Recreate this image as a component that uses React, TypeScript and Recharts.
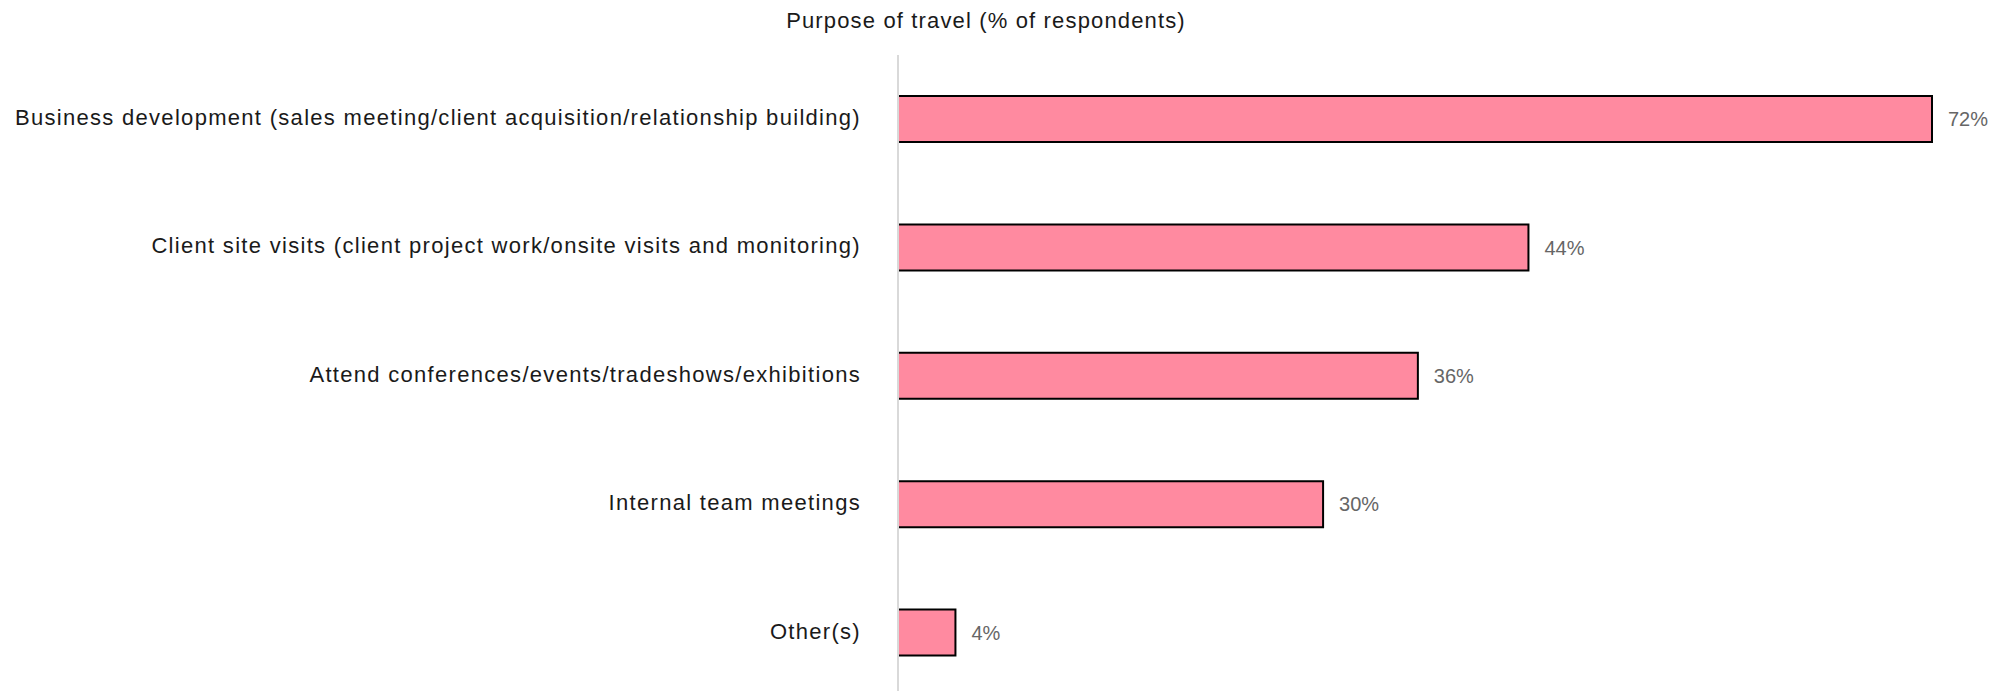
// Purpose of travel — horizontal bar chart

import { BarChart, Bar, XAxis, YAxis, LabelList } from "recharts";

const purposes = [
  "Business development (sales meeting/client acquisition/relationship building)",
  "Client site visits (client project work/onsite visits and monitoring)",
  "Attend conferences/events/tradeshows/exhibitions",
  "Internal team meetings",
  "Other(s)",
];

// labels show the rounded percentage
const shares = [72, 43.9, 36.2, 29.6, 4];

const data = purposes.map((name, i) => ({ name, value: shares[i] }));

const FONT = '"Liberation Sans", Arial, Helvetica, sans-serif';

export default function App() {
  return (
    <div
      style={{
        position: "relative",
        width: 2008,
        height: 691,
        overflow: "hidden",
        fontFamily: FONT,
      }}
    >
      <style>{"body{margin:0}"}</style>
      <div
        style={{
          position: "absolute",
          top: 8,
          left: 0,
          width: 1972,
          textAlign: "center",
          fontSize: 22,
          letterSpacing: "1.15px",
          color: "#1a1a1a",
        }}
      >
        Purpose of travel (% of respondents)
      </div>
      <BarChart
        width={2008}
        height={697}
        data={data}
        layout="vertical"
        margin={{ top: 55, right: 76, bottom: 0, left: 0 }}
      >
        <XAxis type="number" hide domain={[0, 72]} />
        <YAxis
          type="category"
          dataKey="name"
          width={898}
          tickLine={false}
          tickSize={0}
          tickMargin={37}
          axisLine={{ stroke: "#d9d9d9", strokeWidth: 2 }}
          tick={{
            fill: "#1a1a1a",
            fontSize: 22,
            fontFamily: FONT,
            dy: -2,
            style: { letterSpacing: "1.3px" },
          }}
          interval={0}
        />
        <Bar
          dataKey="value"
          fill="#ff8aa0"
          stroke="#000"
          strokeWidth={2}
          barSize={46}
          isAnimationActive={false}
        >
          <LabelList
            dataKey="value"
            position="right"
            offset={16}
            formatter={(v: number) => `${Math.round(v)}%`}
            style={{ fill: "#666", fontSize: 20, fontFamily: FONT }}
          />
        </Bar>
      </BarChart>
    </div>
  );
}
